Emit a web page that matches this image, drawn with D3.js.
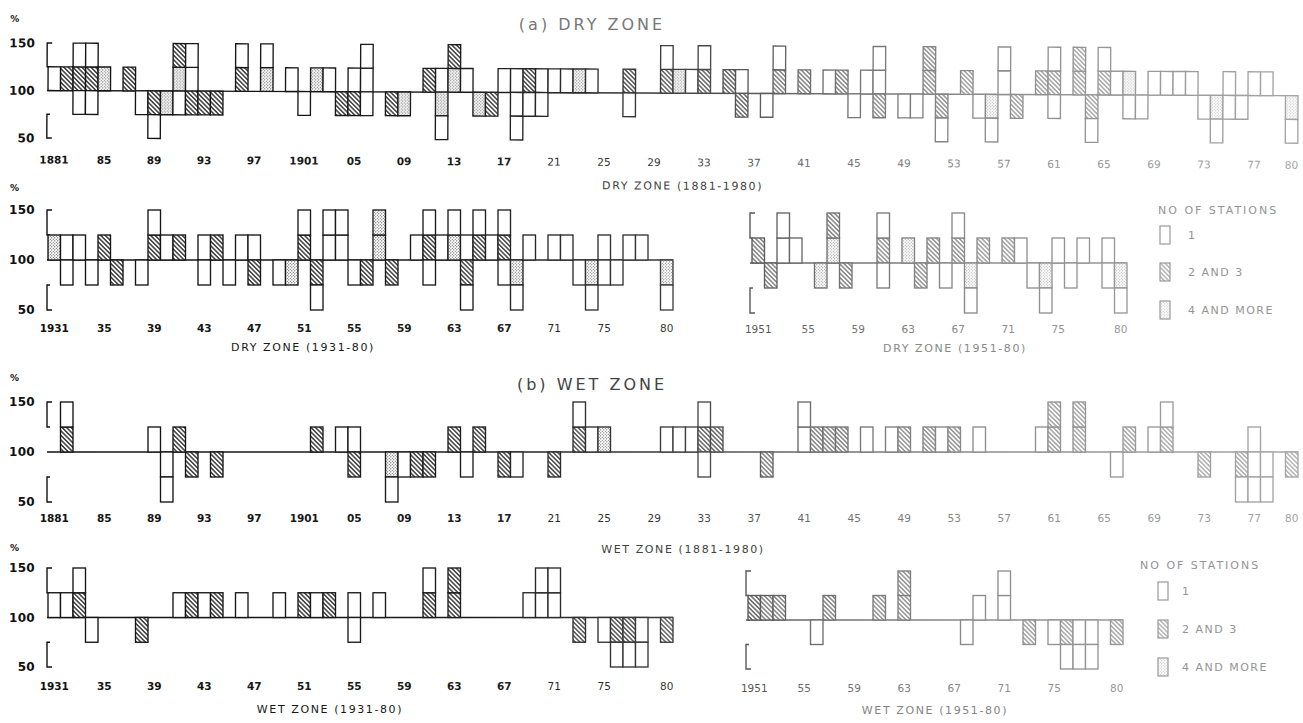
<!DOCTYPE html>
<html><head><meta charset="utf-8">
<script src="https://cdn.jsdelivr.net/npm/d3@7"></script>
<style>body{margin:0;background:#fff}svg{display:block}text{font-family:"DejaVu Sans",sans-serif}</style>
</head><body><svg id="c" width="1303" height="723"></svg>
<script>
// ---------- DATA (code per year: 0 none, 1 = 1 station, 2 = 2 and 3 stations, 3 = 4 and more) ----------
const legendLabels = ["1", "2 AND 3", "4 AND MORE"];

// (a) Dry zone 1881-1980
const dry1881Years = d3.range(1881, 1981);
const dry1881Up1 = [1,2,2,2,3,0,2,0,0,0, 3,1,0,0,0,2,0,3,0,1, 0,3,1,0,1,1,0,0,0,0, 2,1,3,1,0,0,1,1,2,1, 1,1,3,1,0,0,2,0,0,2,
                    3,1,2,0,2,1,0,0,2,0, 2,0,1,2,0,1,1,0,0,0, 2,0,0,2,0,0,1,0,0,2, 2,0,2,0,2,1,3,0,1,1, 1,1,0,0,1,0,1,1,0,0];
const dry1881Up2 = [0,0,1,1,0,0,0,0,0,0, 2,1,0,0,0,1,0,1,0,0, 0,0,0,0,0,1,0,0,0,0, 0,0,2,0,0,0,0,0,0,0, 0,0,0,0,0,0,0,0,0,1,
                    0,0,1,0,0,0,0,0,1,0, 0,0,0,0,0,0,1,0,0,0, 2,0,0,0,0,0,1,0,0,0, 1,0,2,0,1,0,0,0,0,0, 0,0,0,0,0,0,0,0,0,0];
const dry1881Dn1 = [0,0,1,1,0,0,0,1,2,3, 1,2,2,2,0,0,0,0,0,0, 1,0,0,2,2,1,0,2,3,0, 0,3,0,0,3,2,0,1,1,1, 0,0,0,0,0,0,1,0,0,0,
                    0,0,0,0,0,2,0,1,0,0, 0,0,0,0,1,0,2,0,1,1, 0,2,0,0,1,3,0,2,0,0, 1,0,0,2,0,0,1,1,0,0, 0,0,1,3,1,1,0,0,0,3];
const dry1881Dn2 = [0,0,0,0,0,0,0,0,1,0, 0,0,0,0,0,0,0,0,0,0, 0,0,0,0,0,0,0,0,0,0, 0,1,0,0,0,0,0,1,0,0, 0,0,0,0,0,0,0,0,0,0,
                    0,0,0,0,0,0,0,0,0,0, 0,0,0,0,0,0,0,0,0,0, 0,1,0,0,0,1,0,0,0,0, 0,0,0,1,0,0,0,0,0,0, 0,0,0,1,0,0,0,0,0,1];

// Dry zone 1931-80
const dry1931Years = d3.range(1931, 1981);
const dry1931Up1 = [3,1,1,0,2,0,0,0,2,1, 2,0,1,2,0,1,1,0,0,0, 2,0,1,1,0,0,3,0,0,1, 2,1,3,1,2,1,2,0,1,0, 1,1,0,0,1,0,1,1,0,0];
const dry1931Up2 = [0,0,0,0,0,0,0,0,1,0, 0,0,0,0,0,0,0,0,0,0, 1,0,1,1,0,0,3,0,0,0, 1,0,1,0,1,0,1,0,0,0, 0,0,0,0,0,0,0,0,0,0];
const dry1931Dn1 = [0,1,0,1,0,2,0,1,0,0, 0,0,1,0,1,0,2,0,1,3, 0,2,0,0,1,2,0,2,0,0, 1,0,0,2,0,0,1,3,0,0, 0,0,1,3,1,1,0,0,0,3];
const dry1931Dn2 = [0,0,0,0,0,0,0,0,0,0, 0,0,0,0,0,0,0,0,0,0, 0,1,0,0,0,0,0,0,0,0, 0,0,0,1,0,0,0,1,0,0, 0,0,0,1,0,0,0,0,0,1];

// Dry zone 1951-80
const dry1951Years = d3.range(1951, 1981);
const dry1951Up1 = [2,0,1,1,0,0,3,0,0,0, 2,0,3,0,2,0,2,0,2,0, 2,1,0,0,1,0,1,0,1,0];
const dry1951Up2 = [0,0,1,0,0,0,2,0,0,0, 1,0,0,0,0,0,1,0,0,0, 0,0,0,0,0,0,0,0,0,0];
const dry1951Dn1 = [0,2,0,0,0,3,0,2,0,0, 1,0,0,2,0,1,0,3,0,0, 0,0,1,3,0,1,0,0,1,3];
const dry1951Dn2 = [0,0,0,0,0,0,0,0,0,0, 0,0,0,0,0,0,0,1,0,0, 0,0,0,1,0,0,0,0,0,1];

// (b) Wet zone 1881-1980
const wet1881Years = d3.range(1881, 1981);
const wet1881Up1 = [0,2,0,0,0,0,0,0,1,0, 2,0,0,0,0,0,0,0,0,0, 0,2,0,1,1,0,0,0,0,0, 0,0,2,0,2,0,0,0,0,0, 0,0,2,1,3,0,0,0,0,1,
                    1,1,2,2,0,0,0,0,0,0, 1,2,2,2,0,1,0,1,2,0, 2,1,2,0,1,0,0,0,0,1, 2,0,2,0,0,0,2,0,1,2, 0,0,0,0,0,0,1,0,0,0];
const wet1881Up2 = [0,1,0,0,0,0,0,0,0,0, 0,0,0,0,0,0,0,0,0,0, 0,0,0,0,0,0,0,0,0,0, 0,0,0,0,0,0,0,0,0,0, 0,0,1,0,0,0,0,0,0,0,
                    0,0,1,0,0,0,0,0,0,0, 1,0,0,0,0,0,0,0,0,0, 0,0,0,0,0,0,0,0,0,0, 2,0,2,0,0,0,0,0,0,1, 0,0,0,0,0,0,0,0,0,0];
const wet1881Dn1 = [0,0,0,0,0,0,0,0,0,1, 0,2,0,2,0,0,0,0,0,0, 0,0,0,0,2,0,0,3,1,2, 2,0,0,1,0,0,2,1,0,0, 2,0,0,0,0,0,0,0,0,0,
                    0,0,1,0,0,0,0,2,0,0, 0,0,0,0,0,0,0,0,0,0, 0,0,0,0,0,0,0,0,0,0, 0,0,0,0,0,1,0,0,0,0, 0,0,2,0,0,2,1,1,0,2];
const wet1881Dn2 = [0,0,0,0,0,0,0,0,0,1, 0,0,0,0,0,0,0,0,0,0, 0,0,0,0,0,0,0,1,0,0, 0,0,0,0,0,0,0,0,0,0, 0,0,0,0,0,0,0,0,0,0,
                    0,0,0,0,0,0,0,0,0,0, 0,0,0,0,0,0,0,0,0,0, 0,0,0,0,0,0,0,0,0,0, 0,0,0,0,0,0,0,0,0,0, 0,0,0,0,0,1,1,1,0,0];

// Wet zone 1931-80
const wet1931Years = d3.range(1931, 1981);
const wet1931Up1 = [1,1,2,0,0,0,0,0,0,0, 1,2,1,2,0,1,0,0,1,0, 2,1,2,0,1,0,1,0,0,0, 2,0,2,0,0,0,0,0,1,1, 1,0,0,0,0,0,0,0,0,0];
const wet1931Up2 = [0,0,1,0,0,0,0,0,0,0, 0,0,0,0,0,0,0,0,0,0, 0,0,0,0,0,0,0,0,0,0, 1,0,2,0,0,0,0,0,0,1, 1,0,0,0,0,0,0,0,0,0];
const wet1931Dn1 = [0,0,0,1,0,0,0,2,0,0, 0,0,0,0,0,0,0,0,0,0, 0,0,0,0,1,0,0,0,0,0, 0,0,0,0,0,0,0,0,0,0, 0,0,2,0,1,2,2,1,0,2];
const wet1931Dn2 = [0,0,0,0,0,0,0,0,0,0, 0,0,0,0,0,0,0,0,0,0, 0,0,0,0,0,0,0,0,0,0, 0,0,0,0,0,0,0,0,0,0, 0,0,0,0,0,1,1,1,0,0];

// Wet zone 1951-80
const wet1951Years = d3.range(1951, 1981);
const wet1951Up1 = [2,2,2,0,0,0,2,0,0,0, 2,0,2,0,0,0,0,0,1,0, 1,0,0,0,0,0,0,0,0,0];
const wet1951Up2 = [0,0,0,0,0,0,0,0,0,0, 0,0,2,0,0,0,0,0,0,0, 1,0,0,0,0,0,0,0,0,0];
const wet1951Dn1 = [0,0,0,0,0,1,0,0,0,0, 0,0,0,0,0,0,0,1,0,0, 0,0,2,0,1,2,1,1,0,2];
const wet1951Dn2 = [0,0,0,0,0,0,0,0,0,0, 0,0,0,0,0,0,0,0,0,0, 0,0,0,0,0,1,1,1,0,0];

// tick labels
const ticks1881Years = [1881,1885,1889,1893,1897,1901,1905,1909,1913,1917,1921,1925,1929,1933,1937,1941,1945,1949,1953,1957,1961,1965,1969,1973,1977,1980];
const ticks1881Labels = ["1881","85","89","93","97","1901","05","09","13","17","21","25","29","33","37","41","45","49","53","57","61","65","69","73","77","80"];
const ticks1931Years = [1931,1935,1939,1943,1947,1951,1955,1959,1963,1967,1971,1975,1980];
const ticks1931Labels = ["1931","35","39","43","47","51","55","59","63","67","71","75","80"];
const ticks1951Years = [1951,1955,1959,1963,1967,1971,1975,1980];
const ticks1951Labels = ["1951","55","59","63","67","71","75","80"];
const yTickValues = [50, 100, 150];

// ---------- RENDER ----------
const W = 1303, H = 723;
const svg = d3.select("#c");
const defs = svg.append("defs");

// scan fade from dark (left) to light (right)
const fadeStops = [[0,"#111111"],[0.35,"#1b1b1b"],[0.5,"#373737"],[0.62,"#6c6c6c"],[0.75,"#8c8c8c"],[1,"#a6a6a6"]];
const colorAt = d3.scaleLinear().domain(fadeStops.map(s => s[0]*W)).range(fadeStops.map(s => s[1])).clamp(true);
const grad = defs.append("linearGradient").attr("id","fade").attr("gradientUnits","userSpaceOnUse")
  .attr("x1",0).attr("y1",0).attr("x2",W).attr("y2",0);
fadeStops.forEach(s => grad.append("stop").attr("offset",s[0]).attr("stop-color",s[1]));

const NL = 14;
const lvl = x => Math.max(0, Math.min(NL-1, Math.round(x / W * (NL-1))));
for (let i = 0; i < NL; i++) {
  const col = colorAt(i * W / (NL-1));
  const h = defs.append("pattern").attr("id","hatch"+i).attr("patternUnits","userSpaceOnUse")
    .attr("width",3.2).attr("height",3.2).attr("patternTransform","rotate(-45)");
  h.append("rect").attr("width",3.2).attr("height",3.2).attr("fill","#fff");
  h.append("line").attr("x1",0.8).attr("y1",-1).attr("x2",0.8).attr("y2",4.2).attr("stroke",col).attr("stroke-width",1.25);
  const dcol = d3.interpolateRgb(col, "#ffffff")(0.18);
  const d = defs.append("pattern").attr("id","dots"+i).attr("patternUnits","userSpaceOnUse")
    .attr("width",3).attr("height",3);
  d.append("rect").attr("width",3).attr("height",3).attr("fill","#fff");
  d.append("circle").attr("cx",0.8).attr("cy",0.8).attr("r",0.62).attr("fill",dcol);
  d.append("circle").attr("cx",2.3).attr("cy",2.2).attr("r",0.52).attr("fill",dcol);
}
const fillFor = (c, x) => c === 1 ? "#fff" : `url(#${c === 2 ? "hatch" : "dots"}${lvl(x)})`;

const levels = [
  {key:"up1", lo:100, hi:125}, {key:"up2", lo:125, hi:150},
  {key:"dn1", lo:75, hi:100},  {key:"dn2", lo:50, hi:75}
];

const panels = [
  {years:dry1881Years, up1:dry1881Up1, up2:dry1881Up2, dn1:dry1881Dn1, dn2:dry1881Dn2,
   x0:48, x1:1298, axisX:47, yr:[138,43], yLabels:true, pct:[10,22],
   tickYears:ticks1881Years, tickLabels:ticks1881Labels, tickY:156,
   title:"DRY ZONE (1881-1980)", titleX:683, titleY:187, rotate:0.24},
  {years:dry1931Years, up1:dry1931Up1, up2:dry1931Up2, dn1:dry1931Dn1, dn2:dry1931Dn2,
   x0:48, x1:673, axisX:47, yr:[310,210], yLabels:true, pct:[10,191],
   tickYears:ticks1931Years, tickLabels:ticks1931Labels, tickY:325,
   title:"DRY ZONE (1931-80)", titleX:303, titleY:351},
  {years:dry1951Years, up1:dry1951Up1, up2:dry1951Up2, dn1:dry1951Dn1, dn2:dry1951Dn2,
   x0:752, x1:1127, axisX:750, yr:[313,213], yLabels:false,
   tickYears:ticks1951Years, tickLabels:ticks1951Labels, tickY:326,
   title:"DRY ZONE (1951-80)", titleX:955, titleY:352},
  {years:wet1881Years, up1:wet1881Up1, up2:wet1881Up2, dn1:wet1881Dn1, dn2:wet1881Dn2,
   x0:48, x1:1298, axisX:47, yr:[502,402], yLabels:true, pct:[10,381],
   tickYears:ticks1881Years, tickLabels:ticks1881Labels, tickY:515,
   title:"WET ZONE (1881-1980)", titleX:683, titleY:553},
  {years:wet1931Years, up1:wet1931Up1, up2:wet1931Up2, dn1:wet1931Dn1, dn2:wet1931Dn2,
   x0:48, x1:673, axisX:47, yr:[667,568], yLabels:true, pct:[10,551],
   tickYears:ticks1931Years, tickLabels:ticks1931Labels, tickY:683,
   title:"WET ZONE (1931-80)", titleX:330, titleY:713},
  {years:wet1951Years, up1:wet1951Up1, up2:wet1951Up2, dn1:wet1951Dn1, dn2:wet1951Dn2,
   x0:748, x1:1123, axisX:746, yr:[669,571], yLabels:false,
   tickYears:ticks1951Years, tickLabels:ticks1951Labels, tickY:685,
   title:"WET ZONE (1951-80)", titleX:935, titleY:714}
];

panels.forEach(p => {
  const g = svg.append("g");
  if (p.rotate) g.attr("transform", `rotate(${p.rotate},${p.axisX},${(p.yr[0]+p.yr[1])/2})`);
  const x = d3.scaleBand().domain(p.years).range([p.x0, p.x1]).padding(0);
  const y = d3.scaleLinear().domain([50,150]).range(p.yr);

  // baseline at 100 %
  g.append("line").attr("x1",p.axisX).attr("x2",p.x1).attr("y1",y(100)).attr("y2",y(100))
    .attr("stroke","url(#fade)").attr("stroke-width",1.4);

  // bracket-style y axis
  const bp = d3.path();
  bp.moveTo(p.axisX+5, y(150)); bp.lineTo(p.axisX, y(150)); bp.lineTo(p.axisX, y(125)); bp.lineTo(p.axisX+3, y(125));
  bp.moveTo(p.axisX+3, y(75)); bp.lineTo(p.axisX, y(75)); bp.lineTo(p.axisX, y(50)); bp.lineTo(p.axisX+5, y(50));
  g.append("path").attr("d", bp.toString()).attr("fill","none").attr("stroke","url(#fade)").attr("stroke-width",1.4);

  if (p.yLabels) {
    const ya = g.append("g").attr("transform",`translate(${p.axisX-12},0)`)
      .call(d3.axisLeft(y).tickValues(yTickValues).tickSize(0).tickPadding(0));
    ya.select(".domain").remove();
    ya.selectAll("text").attr("font-size",12).attr("font-weight","bold").attr("fill",colorAt(20))
      .attr("font-family","DejaVu Sans, sans-serif").attr("letter-spacing",0.3);
    g.append("text").attr("x",p.pct[0]).attr("y",p.pct[1]).attr("font-size",9).attr("font-weight","bold")
      .attr("fill",colorAt(10)).text("%");
  }

  // cells
  const cells = [];
  p.years.forEach((yr, i) => levels.forEach(l => {
    const c = p[l.key][i];
    if (c) cells.push({yr, c, lo:l.lo, hi:l.hi});
  }));
  g.selectAll("rect.cell").data(cells).join("rect").attr("class","cell")
    .attr("x", d => x(d.yr)).attr("width", x.bandwidth())
    .attr("y", d => y(d.hi)).attr("height", d => y(d.lo) - y(d.hi))
    .attr("fill", d => fillFor(d.c, x(d.yr)))
    .attr("stroke","url(#fade)").attr("stroke-width",1.35);

  // x labels
  const xa = g.append("g").attr("transform",`translate(0,${p.tickY})`)
    .call(d3.axisBottom(x).tickValues(p.tickYears).tickFormat((d,i) => p.tickLabels[i]).tickSize(0).tickPadding(0));
  xa.select(".domain").remove();
  xa.selectAll("text").attr("font-size",10.5).attr("font-family","DejaVu Sans, sans-serif")
    .attr("fill", d => colorAt(x(d))).attr("font-weight", d => x(d) < 500 ? "bold" : "normal");

  g.append("text").attr("x",p.titleX).attr("y",p.titleY).attr("text-anchor","middle")
    .attr("font-size",11).attr("letter-spacing",1.6).attr("fill",colorAt(p.titleX)).text(p.title);
});

// zone headings
svg.append("text").attr("x",592).attr("y",30).attr("text-anchor","middle").attr("font-size",16)
  .attr("letter-spacing",3).attr("fill","#777").text("(a) DRY ZONE");
svg.append("text").attr("x",592).attr("y",390).attr("text-anchor","middle").attr("font-size",16)
  .attr("letter-spacing",3).attr("fill","#444").text("(b) WET ZONE");

// legends
function legend(tx, ty, bx, by, lx) {
  const g = svg.append("g");
  const col = "#949494";
  g.append("text").attr("x",tx).attr("y",ty).attr("font-size",11).attr("letter-spacing",2)
    .attr("fill",col).text("NO OF STATIONS");
  legendLabels.forEach((lab, i) => {
    const fill = i === 0 ? "#fff" : `url(#${i === 1 ? "hatch" : "dots"}${NL-1})`;
    g.append("rect").attr("x",bx).attr("y",by[i]).attr("width",10).attr("height",18)
      .attr("fill",fill).attr("stroke","#9a9a9a").attr("stroke-width",1.2);
    g.append("text").attr("x",lx).attr("y",by[i]+13).attr("font-size",11).attr("letter-spacing",1.5)
      .attr("fill",col).text(lab);
  });
}
legend(1158, 214, 1160, [226,263,301], 1188);
legend(1140, 569, 1158, [582,620,658], 1182);
</script></body></html>
